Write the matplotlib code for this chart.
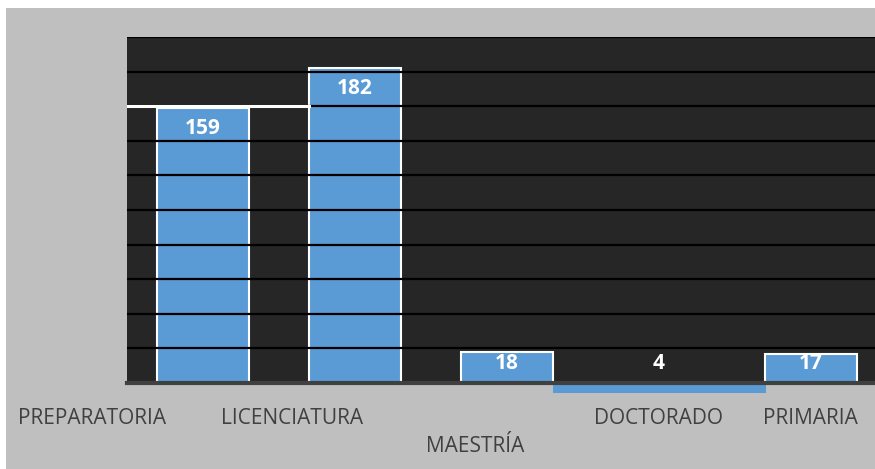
import matplotlib
matplotlib.use("Agg")
import matplotlib.pyplot as plt
from matplotlib.patches import Rectangle

plt.rcParams["font.family"] = ["Open Sans", "DejaVu Sans"]

categories = ["PREPARATORIA", "LICENCIATURA", "MAESTRÍA", "DOCTORADO", "PRIMARIA"]
values = [159, 182, 18, 4, 17]

BLUE = "#5b9bd5"
PLOT_BG = "#262626"
OUTER = "#bfbfbf"
LABEL = "#404040"

W, H = 875, 469
fig = plt.figure(figsize=(W / 100, H / 100), dpi=100, facecolor=OUTER)
# thin white border on the left and top
fig.patches.append(Rectangle((0, 0), 6 / W, 1, transform=fig.transFigure,
                             facecolor="white", edgecolor="none"))
fig.patches.append(Rectangle((0, 1 - 8 / H), 1, 8 / H, transform=fig.transFigure,
                             facecolor="white", edgecolor="none"))

ax = fig.add_axes([127 / W, 1 - 383 / H, 1 - 127 / W, (383 - 37) / H])
ax.set_facecolor(PLOT_BG)
ax.set_xlim(-0.5, 4.42)
ax.set_ylim(0, 200)

width = 0.605
xs = list(range(len(categories)))
normal = [i for i in xs if i != 3]
ax.bar([xs[i] for i in normal], [values[i] for i in normal], width=width,
       color=BLUE, edgecolor="white", linewidth=1.5, zorder=1)
# the tiny DOCTORADO bar is drawn as a wide strip hanging below the axis
ax.bar(xs[3], -values[3] * 1.5, width=1.4, color=BLUE, edgecolor="none",
       zorder=1, clip_on=False)

for y in range(20, 201, 20):
    ax.axhline(y, color="black", linewidth=1.6, zorder=2)
# white stretch of the 160 line to the left of the tallest bar
ax.plot([-0.5, xs[1] - width / 2], [160, 160], color="white", linewidth=2.2, zorder=2.5)

for x, v in zip(xs, values):
    ax.text(x, max(v - 12, 11), str(v), ha="center", va="center", color="white",
            fontsize=15, fontweight="bold", zorder=3)

for s in ["top", "right", "left"]:
    ax.spines[s].set_visible(False)
ax.spines["bottom"].set_color("#404040")
ax.spines["bottom"].set_linewidth(3)
ax.spines["bottom"].set_zorder(2)
ax.set_xticks([])
ax.set_yticks([])

label_pos = [(92, 418), (292, 418), (475, 446), (658, 418), (810, 418)]
for name, (px, py) in zip(categories, label_pos):
    fig.text(px / W, 1 - py / H, name, ha="center", va="center", color=LABEL, fontsize=15)

fig.savefig("out.png", dpi=100, facecolor=fig.get_facecolor())
